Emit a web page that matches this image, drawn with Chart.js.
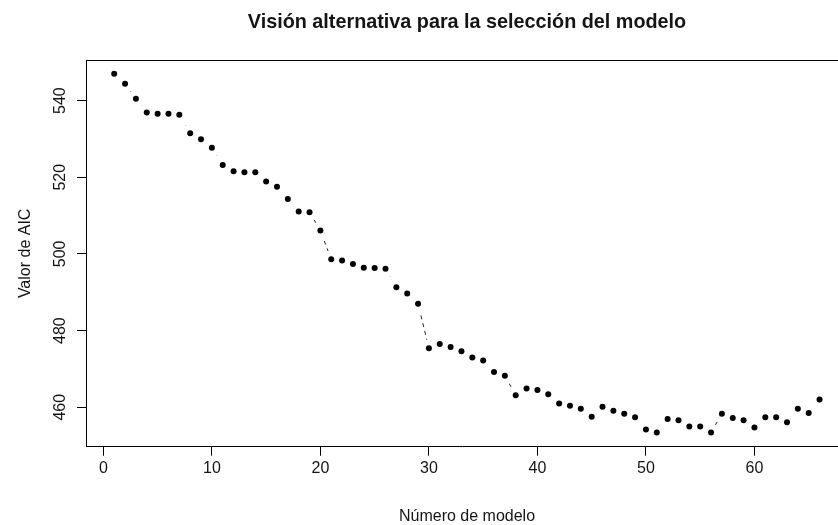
<!DOCTYPE html>
<html lang="es">
<head>
<meta charset="utf-8">
<title>Visión alternativa para la selección del modelo</title>
<script src="https://cdn.jsdelivr.net/npm/chart.js@4/dist/chart.umd.min.js"></script>
<style>
  html, body { margin: 0; padding: 0; background: #fff; overflow: hidden; }
  #wrap { width: 838px; height: 525px; position: relative; }
  canvas { display: block; }
</style>
</head>
<body>
<div id="wrap"><canvas id="c" width="838" height="525"></canvas></div>
<script>
// Número de modelo (eje X)
const modelos = [
  1, 2, 3, 4, 5, 6, 7, 8, 9, 10,
  11, 12, 13, 14, 15, 16, 17, 18, 19, 20,
  21, 22, 23, 24, 25, 26, 27, 28, 29, 30,
  31, 32, 33, 34, 35, 36, 37, 38, 39, 40,
  41, 42, 43, 44, 45, 46, 47, 48, 49, 50,
  51, 52, 53, 54, 55, 56, 57, 58, 59, 60,
  61, 62, 63, 64, 65, 66
];

// Valor de AIC de cada modelo
const aic = [
  547.0, 544.4, 540.5, 536.9, 536.6, 536.6, 536.3, 531.5, 529.9, 527.7,
  523.2, 521.6, 521.3, 521.3, 518.9, 517.5, 514.3, 511.1, 510.9, 506.1,
  498.6, 498.3, 497.4, 496.4, 496.3, 496.1, 491.3, 489.7, 487.0, 475.4,
  476.5, 475.7, 474.6, 473.0, 472.2, 469.2, 468.2, 463.1, 464.9, 464.5,
  463.4, 461.0, 460.4, 459.6, 457.5, 460.1, 459.1, 458.3, 457.4, 454.2,
  453.4, 456.9, 456.6, 455.0, 455.0, 453.4, 458.3, 457.2, 456.6, 454.7,
  457.4, 457.4, 456.1, 459.6, 458.5, 462.0
];

// Marcas de los ejes
const ticksX = [0, 10, 20, 30, 40, 50, 60];
const ticksY = [460, 480, 500, 520, 540];

const titulo = 'Visión alternativa para la selección del modelo';
const etiquetaX = 'Número de modelo';
const etiquetaY = 'Valor de AIC';

const puntos = modelos.map((m, i) => ({ x: m, y: aic[i] }));

const FONT = '"Liberation Sans", Arial, Helvetica, sans-serif';
const INK = '#151515';

// Textos del gráfico: título, etiquetas de ejes y números del eje Y (girados)
const textos = {
  id: 'textos',
  afterDraw(chart) {
    const { ctx, chartArea: a, scales: { x, y } } = chart;
    ctx.save();
    // marco superior de la región del gráfico
    ctx.strokeStyle = '#000';
    ctx.lineWidth = 1;
    ctx.beginPath();
    ctx.moveTo(a.left, Math.round(a.top) + 0.5);
    ctx.lineTo(a.right, Math.round(a.top) + 0.5);
    ctx.stroke();

    ctx.fillStyle = INK;
    ctx.textAlign = 'center';
    ctx.textBaseline = 'middle';

    const cx = 467;
    ctx.font = 'bold 19.8px ' + FONT;
    ctx.fillText(titulo, cx, 23);

    ctx.font = '16px ' + FONT;
    ctx.fillText(etiquetaX, cx, 517);

    ctx.save();
    ctx.translate(26, (a.top + a.bottom) / 2);
    ctx.rotate(-Math.PI / 2);
    ctx.fillText(etiquetaY, 0, 0);
    ctx.restore();

    ticksY.forEach(v => {
      ctx.save();
      ctx.translate(61, y.getPixelForValue(v));
      ctx.rotate(-Math.PI / 2);
      ctx.fillText(String(v), 0, 0);
      ctx.restore();
    });
    ctx.restore();
  }
};

new Chart(document.getElementById('c'), {
  type: 'scatter',
  data: {
    datasets: [
      {
        // puntos negros
        data: puntos,
        order: 0,
        showLine: false,
        pointRadius: 3,
        pointHoverRadius: 3,
        pointBackgroundColor: '#000',
        pointBorderWidth: 0
      },
      {
        // línea discontinua entre puntos (tipo "b": con hueco alrededor de cada punto)
        data: puntos,
        order: 1,
        showLine: true,
        borderColor: '#222',
        borderWidth: 1,
        borderDash: [4, 4],
        tension: 0,
        pointRadius: 9,
        pointHoverRadius: 9,
        pointBackgroundColor: '#fff',
        pointBorderWidth: 0
      }
    ]
  },
  options: {
    responsive: false,
    animation: false,
    devicePixelRatio: 1,
    layout: { autoPadding: false, padding: { top: 60, left: 0, right: 0, bottom: 0 } },
    plugins: {
      legend: { display: false },
      tooltip: { enabled: false },
      title: { display: false }
    },
    events: [],
    scales: {
      x: {
        type: 'linear',
        min: -1.6,
        max: 67.7,
        afterBuildTicks(s) { s.ticks = ticksX.map(v => ({ value: v })); },
        afterFit(s) { s.height = 78.3; },
        grid: {
          drawOnChartArea: false,
          drawTicks: true,
          tickLength: 9,
          tickWidth: 1,
          tickColor: '#000'
        },
        border: { display: true, color: '#000', width: 1 },
        ticks: {
          padding: 3,
          color: INK,
          font: { family: FONT, size: 16 },
          maxRotation: 0,
          autoSkip: false
        }
      },
      y: {
        type: 'linear',
        min: 449.7,
        max: 550.6,
        afterBuildTicks(s) { s.ticks = ticksY.map(v => ({ value: v })); },
        afterFit(s) { s.width = 86; },
        grid: {
          drawOnChartArea: false,
          drawTicks: true,
          tickLength: 9,
          tickWidth: 1,
          tickColor: '#000'
        },
        border: { display: true, color: '#000', width: 1 },
        ticks: { display: false }
      }
    }
  },
  plugins: [textos]
});
</script>
</body>
</html>
